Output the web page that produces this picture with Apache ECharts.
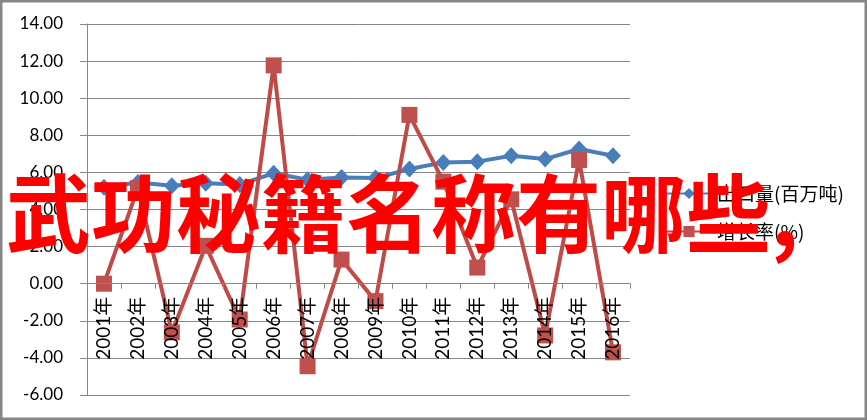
<!DOCTYPE html>
<html>
<head>
<meta charset="utf-8">
<script src="https://cdn.jsdelivr.net/npm/echarts@6/dist/echarts.min.js"></script>
<style>
html,body{margin:0;padding:0;background:#fff;}
#c{width:867px;height:420px;}
</style>
</head>
<body>
<div id="c"></div>
<script>
const categories = ['2001年','2002年','2003年','2004年','2005年','2006年','2007年','2008年','2009年','2010年','2011年','2012年','2013年','2014年','2015年','2016年'];
const outputName = '出口量(百万吨)';
const growthName = '增长率(%)';
const outputValues = [5.2, 5.45, 5.28, 5.42, 5.35, 5.95, 5.6, 5.73, 5.7, 6.18, 6.54, 6.58, 6.9, 6.72, 7.26, 6.9];
const growthValues = [0, 5.15, -2.62, 2.04, -1.93, 11.77, -4.45, 1.3, -0.94, 9.1, 5.5, 0.87, 4.55, -2.79, 6.67, -3.7];
const overlayText = '武功秘籍名称有哪些,';
const yMin = -6, yMax = 14, yStep = 2;

const W = 867, H = 420;
const gridTop = 24, gridBottom = 25;
const gridH = H - gridTop - gridBottom;
// place the category axis on the value-axis zero line
const xAxisOffset = -gridH * (0 - yMin) / (yMax - yMin);

const chart = echarts.init(document.getElementById('c'));
const gray = '#868686';
const font = 'Lato, "Noto Sans CJK SC", sans-serif';
chart.setOption({
  animation: false,
  backgroundColor: '#fff',
  grid: {left: 87, right: 237, top: gridTop, bottom: gridBottom, containLabel: false, outerBoundsMode: 'none'},
  legend: {
    orient: 'vertical',
    left: 660,
    top: 179,
    itemWidth: 46,
    itemHeight: 14,
    itemGap: 19,
    textStyle: {fontSize: 19, color: '#000', fontFamily: '"Noto Sans CJK SC", sans-serif'},
    data: [outputName, growthName]
  },
  xAxis: {
    type: 'category',
    data: categories,
    boundaryGap: true,
    offset: xAxisOffset,
    z: 10,
    axisLine: {onZero: true, lineStyle: {color: gray, width: 1}},
    axisTick: {show: true, interval: 0, length: 5, lineStyle: {color: gray}},
    axisLabel: {rotate: 90, interval: 0, margin: 13, fontSize: 19, color: '#000', fontFamily: font}
  },
  yAxis: {
    type: 'value',
    min: yMin, max: yMax, interval: yStep,
    axisLine: {show: true, onZero: false, lineStyle: {color: gray, width: 1}},
    axisTick: {show: true, length: 7, lineStyle: {color: gray}},
    splitLine: {show: true, lineStyle: {color: gray, width: 1}},
    axisLabel: {margin: 24, fontSize: 17, color: '#000', fontFamily: font, formatter: v => v.toFixed(2)}
  },
  series: [
    {
      name: outputName, type: 'line', data: outputValues,
      symbol: 'diamond', symbolSize: [16, 17],
      lineStyle: {color: '#4A7EBB', width: 4},
      itemStyle: {color: '#4A7EBB'},
      z: 2
    },
    {
      name: growthName, type: 'line', data: growthValues,
      symbol: 'rect', symbolSize: 16,
      lineStyle: {color: '#BE4B48', width: 4},
      itemStyle: {color: '#C0504D'},
      z: 3
    }
  ],
  graphic: [
    {type: 'rect', silent: true, z: 0, shape: {x: 1, y: 1, width: W - 2, height: H - 2},
     style: {fill: 'none', stroke: gray, lineWidth: 3}},
    {type: 'text', silent: true, z: 100, left: 6, top: 171,
     style: {text: overlayText, fill: '#FF0000', font: 'bold 85px "Noto Sans CJK SC"'}}
  ]
});
</script>
</body>
</html>
